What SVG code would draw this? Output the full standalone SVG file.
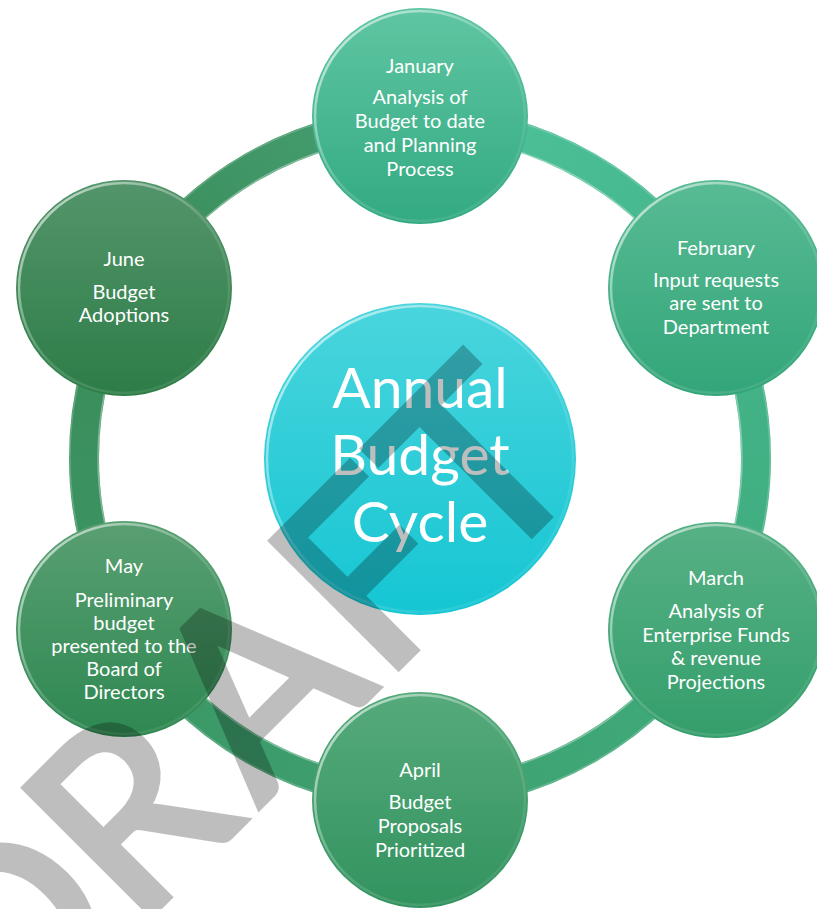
<svg xmlns="http://www.w3.org/2000/svg" width="817" height="909" viewBox="0 0 817 909">
<style>
.lbl{font-family:Lato,"Liberation Sans",sans-serif;font-size:20px;fill:#fff;text-anchor:middle}
.big{font-family:Lato,"Liberation Sans",sans-serif;font-size:57px;fill:#fff;text-anchor:middle}
.rim{fill:none;stroke:url(#rimG);stroke-width:2.5}
.ring{fill:none;stroke-width:30}
.wm{font-family:Lato,"Liberation Sans",sans-serif;font-size:250px;fill:#000;stroke:#000;stroke-width:7;stroke-linejoin:miter;text-anchor:middle}
</style>
<defs>
<linearGradient id="rimG" x1="0" y1="0" x2="1" y2="1">
<stop offset="0" stop-color="#fff" stop-opacity="0.75"/>
<stop offset="0.5" stop-color="#fff" stop-opacity="0.15"/>
<stop offset="1" stop-color="#fff" stop-opacity="0.05"/>
</linearGradient>
<linearGradient id="gJan" x1="0" y1="0" x2="0" y2="1"><stop offset="0" stop-color="#5fc6a2"/><stop offset="1" stop-color="#33aa82"/></linearGradient>
<linearGradient id="gFeb" x1="0" y1="0" x2="0" y2="1"><stop offset="0" stop-color="#58bb94"/><stop offset="1" stop-color="#33a579"/></linearGradient>
<linearGradient id="gMar" x1="0" y1="0" x2="0" y2="1"><stop offset="0" stop-color="#57b186"/><stop offset="1" stop-color="#349e6b"/></linearGradient>
<linearGradient id="gApr" x1="0" y1="0" x2="0" y2="1"><stop offset="0" stop-color="#56aa7b"/><stop offset="1" stop-color="#32935f"/></linearGradient>
<linearGradient id="gMay" x1="0" y1="0" x2="0" y2="1"><stop offset="0" stop-color="#599f72"/><stop offset="1" stop-color="#2e8851"/></linearGradient>
<linearGradient id="gJun" x1="0" y1="0" x2="0" y2="1"><stop offset="0" stop-color="#54956b"/><stop offset="1" stop-color="#2d7d47"/></linearGradient>
<linearGradient id="gCen" x1="0" y1="0" x2="0" y2="1"><stop offset="0" stop-color="#4ad5dd"/><stop offset="1" stop-color="#15c6d3"/></linearGradient>
<linearGradient id="r1" gradientUnits="userSpaceOnUse" x1="420" y1="122" x2="711" y2="290"><stop offset="0" stop-color="#4fc29b"/><stop offset="1" stop-color="#44b68b"/></linearGradient>
<linearGradient id="r2" gradientUnits="userSpaceOnUse" x1="711" y1="290" x2="711" y2="626"><stop offset="0" stop-color="#44b68b"/><stop offset="1" stop-color="#3fab7c"/></linearGradient>
<linearGradient id="r3" gradientUnits="userSpaceOnUse" x1="711" y1="626" x2="420" y2="794"><stop offset="0" stop-color="#3fab7c"/><stop offset="1" stop-color="#3ea171"/></linearGradient>
<linearGradient id="r4" gradientUnits="userSpaceOnUse" x1="420" y1="794" x2="129" y2="626"><stop offset="0" stop-color="#3ea171"/><stop offset="1" stop-color="#3b9563"/></linearGradient>
<linearGradient id="r5" gradientUnits="userSpaceOnUse" x1="129" y1="626" x2="129" y2="290"><stop offset="0" stop-color="#3b9563"/><stop offset="1" stop-color="#3a8c5a"/></linearGradient>
<linearGradient id="r6" gradientUnits="userSpaceOnUse" x1="129" y1="290" x2="420" y2="122"><stop offset="0" stop-color="#3a8c5a"/><stop offset="1" stop-color="#46a073"/></linearGradient>
</defs>
<rect width="817" height="909" fill="#fff"/>
<g id="connectors">
<path class="ring" stroke="url(#r1)" d="M420 122 A336 336 0 0 1 710.98 290"/>
<path class="ring" stroke="url(#r2)" d="M710.98 290 A336 336 0 0 1 710.98 626"/>
<path class="ring" stroke="url(#r3)" d="M710.98 626 A336 336 0 0 1 420 794"/>
<path class="ring" stroke="url(#r4)" d="M420 794 A336 336 0 0 1 129.02 626"/>
<path class="ring" stroke="url(#r5)" d="M129.02 626 A336 336 0 0 1 129.02 290"/>
<path class="ring" stroke="url(#r6)" d="M129.02 290 A336 336 0 0 1 420 122"/>
<circle cx="420" cy="458" r="322" fill="none" stroke="#fff" stroke-opacity="0.35" stroke-width="1.5"/>
<circle cx="420" cy="458" r="350" fill="none" stroke="#fff" stroke-opacity="0.2" stroke-width="1.5"/>
</g>
<g id="center">
<circle cx="420" cy="459" r="156" fill="url(#gCen)"/>
<circle class="rim" cx="420" cy="459" r="153"/>
<text class="big" x="420" y="408">Annual</text>
<text class="big" x="420" y="475">Budget</text>
<text class="big" x="420" y="542">Cycle</text>
</g>
<g id="january">
<circle cx="420" cy="116" r="108" fill="url(#gJan)"/>
<circle class="rim" cx="420" cy="116" r="105"/>
<text class="lbl" x="420" y="73">January</text>
<text class="lbl" x="420" y="104">Analysis of</text>
<text class="lbl" x="420" y="128">Budget to date</text>
<text class="lbl" x="420" y="152">and Planning</text>
<text class="lbl" x="420" y="176">Process</text>
</g>
<g id="february">
<circle cx="716" cy="288" r="108" fill="url(#gFeb)"/>
<circle class="rim" cx="716" cy="288" r="105"/>
<text class="lbl" x="716" y="255">February</text>
<text class="lbl" x="716" y="287">Input requests</text>
<text class="lbl" x="716" y="310">are sent to</text>
<text class="lbl" x="716" y="334">Department</text>
</g>
<g id="march">
<circle cx="716" cy="630" r="108" fill="url(#gMar)"/>
<circle class="rim" cx="716" cy="630" r="105"/>
<text class="lbl" x="716" y="585">March</text>
<text class="lbl" x="716" y="618">Analysis of</text>
<text class="lbl" x="716" y="642">Enterprise Funds</text>
<text class="lbl" x="716" y="665">&amp; revenue</text>
<text class="lbl" x="716" y="689">Projections</text>
</g>
<g id="april">
<circle cx="420" cy="800" r="108" fill="url(#gApr)"/>
<circle class="rim" cx="420" cy="800" r="105"/>
<text class="lbl" x="420" y="777">April</text>
<text class="lbl" x="420" y="809">Budget</text>
<text class="lbl" x="420" y="833">Proposals</text>
<text class="lbl" x="420" y="857">Prioritized</text>
</g>
<g id="may">
<circle cx="124" cy="629" r="108" fill="url(#gMay)"/>
<circle class="rim" cx="124" cy="629" r="105"/>
<text class="lbl" x="124" y="573">May</text>
<text class="lbl" x="124" y="607">Preliminary</text>
<text class="lbl" x="124" y="630">budget</text>
<text class="lbl" x="124" y="653">presented to the</text>
<text class="lbl" x="124" y="676">Board of</text>
<text class="lbl" x="124" y="699">Directors</text>
</g>
<g id="june">
<circle cx="124" cy="288" r="108" fill="url(#gJun)"/>
<circle class="rim" cx="124" cy="288" r="105"/>
<text class="lbl" x="124" y="266">June</text>
<text class="lbl" x="124" y="299">Budget</text>
<text class="lbl" x="124" y="322">Adoptions</text>
</g>
<g id="watermark" transform="translate(533,533) rotate(-45)" opacity="0.25">
<text class="wm" x="-656 -484 -303 -142 10" y="0">DRAFT</text>
</g>
</svg>
